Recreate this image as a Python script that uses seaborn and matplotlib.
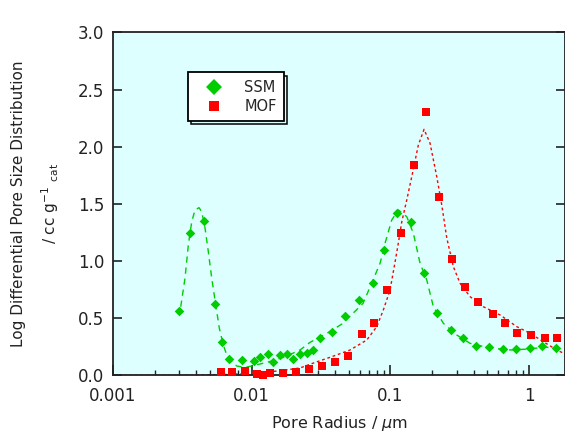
import matplotlib
matplotlib.use("Agg")
import matplotlib.pyplot as plt
import seaborn as sns
from matplotlib.lines import Line2D
from matplotlib.ticker import FixedLocator, LogLocator, NullFormatter

# ---------------- data ----------------
series_names = ["SSM", "MOF"]

ssm_radius = [0.00302, 0.00361, 0.00451, 0.00550, 0.00613, 0.00683, 0.00850,
              0.01048, 0.01152, 0.01304, 0.01436, 0.01605, 0.01793, 0.02001,
              0.02236, 0.02499, 0.02761, 0.03090, 0.03802, 0.04741, 0.05970,
              0.07482, 0.09053, 0.1118, 0.1410, 0.1735, 0.2152, 0.2724,
              0.3352, 0.4130, 0.5168, 0.6519, 0.7980, 1.020, 1.243, 1.563]
ssm_value = [0.561, 1.243, 1.351, 0.629, 0.293, 0.144, 0.134,
             0.131, 0.159, 0.188, 0.121, 0.179, 0.188, 0.147,
             0.186, 0.197, 0.227, 0.325, 0.378, 0.524, 0.662,
             0.806, 1.095, 1.420, 1.339, 0.898, 0.544, 0.398,
             0.325, 0.260, 0.245, 0.231, 0.233, 0.238, 0.262, 0.242]

mof_radius = [0.00603, 0.00724, 0.00902, 0.01090, 0.01216, 0.01359, 0.01695,
              0.02092, 0.02609, 0.03205, 0.03996, 0.04982, 0.06221, 0.07656,
              0.09419, 0.1198, 0.1489, 0.1808, 0.2250, 0.2797, 0.3453,
              0.4305, 0.5468, 0.6706, 0.8222, 1.037, 1.302, 1.597]
mof_value = [0.028, 0.028, 0.037, 0.009, 0.000, 0.024, 0.024,
             0.033, 0.057, 0.079, 0.121, 0.173, 0.367, 0.462,
             0.746, 1.247, 1.838, 2.302, 1.558, 1.018, 0.776,
             0.640, 0.538, 0.457, 0.374, 0.354, 0.325, 0.328]

ssm_fit_radius = [0.003090, 0.003318, 0.003505, 0.003708, 0.003916, 0.004185,
                  0.004377, 0.004624, 0.004884, 0.005168, 0.005523, 0.005861,
                  0.006263, 0.006626, 0.007200, 0.007823, 0.008979, 0.01114,
                  0.01405, 0.01743, 0.02236, 0.02640, 0.03499, 0.04563,
                  0.05386, 0.06358, 0.07143, 0.08432, 0.09159, 0.1023,
                  0.1142, 0.1313, 0.1465, 0.1637, 0.1829, 0.2041, 0.2409,
                  0.3009, 0.3752, 0.5228, 0.7287, 1.015, 1.302, 1.814]
ssm_fit_value = [0.601, 0.852, 1.141, 1.344, 1.447, 1.467,
                 1.432, 1.289, 1.082, 0.850, 0.616, 0.413,
                 0.267, 0.179, 0.121, 0.083, 0.070, 0.096,
                 0.127, 0.164, 0.223, 0.290, 0.369, 0.456,
                 0.544, 0.631, 0.774, 0.981, 1.156, 1.359,
                 1.447, 1.388, 1.243, 0.981, 0.835, 0.601, 0.456,
                 0.354, 0.281, 0.240, 0.223, 0.232, 0.249, 0.223]

mof_fit_radius = [0.001, 0.003054, 0.007002, 0.01152, 0.01605, 0.02236,
                  0.02868, 0.03740, 0.05125, 0.06761, 0.07980, 0.08903,
                  0.09949, 0.1081, 0.1142, 0.1208, 0.1313, 0.1426, 0.1591,
                  0.1749, 0.1932, 0.2159, 0.2346, 0.2549, 0.2844, 0.3178,
                  0.3752, 0.4677, 0.6172, 0.8141, 1.015, 1.266, 1.581, 1.814]
mof_fit_value = [0.000, 0.002, 0.010, 0.026, 0.041, 0.066,
                 0.114, 0.162, 0.223, 0.310, 0.427, 0.573,
                 0.747, 0.992, 1.158, 1.342, 1.535, 1.738, 2.015,
                 2.152, 2.030, 1.738, 1.490, 1.202, 0.951, 0.806,
                 0.689, 0.601, 0.529, 0.427, 0.369, 0.295, 0.223, 0.188]

x_ticks = [0.001, 0.01, 0.1, 1]
x_tick_labels = ["0.001", "0.01", "0.1", "1"]
y_ticks = [0.0, 0.5, 1.0, 1.5, 2.0, 2.5, 3.0]
y_tick_labels = ["0.0", "0.5", "1.0", "1.5", "2.0", "2.5", "3.0"]

# ---------------- style ----------------
GREEN = "#00CC00"
RED = "#FF0000"

sns.set_style("ticks")
plt.rcParams["font.family"] = ["DejaVu Sans"]
plt.rcParams["mathtext.fontset"] = "dejavusans"

fig = plt.figure(figsize=(5.65, 4.32), dpi=100)
ax = fig.add_axes([0.1995, 0.1308, 0.8010, 0.7944])
ax.set_facecolor("#DDFFFF")
ax.set_xscale("log")

sns.lineplot(x=ssm_fit_radius, y=ssm_fit_value, ax=ax, color=GREEN,
             linewidth=1.0, linestyle=(0, (4.5, 3.5)), sort=False, legend=False)
sns.lineplot(x=mof_fit_radius, y=mof_fit_value, ax=ax, color=RED,
             linewidth=1.0, linestyle=(0, (2, 2)), sort=False, legend=False)

sns.scatterplot(x=ssm_radius, y=ssm_value, ax=ax, marker="D", s=24,
                color=GREEN, linewidth=0, clip_on=False, zorder=5, legend=False)
sns.scatterplot(x=mof_radius, y=mof_value, ax=ax, marker="s", s=26,
                color=RED, linewidth=0, clip_on=False, zorder=5, legend=False)

ax.set_xlim(0.001, 1.82)
ax.set_ylim(0.0, 3.0)

ax.xaxis.set_major_locator(FixedLocator(x_ticks))
ax.set_xticklabels(x_tick_labels)
ax.xaxis.set_minor_locator(LogLocator(base=10, subs=range(2, 10), numticks=20))
ax.xaxis.set_minor_formatter(NullFormatter())
ax.yaxis.set_major_locator(FixedLocator(y_ticks))
ax.set_yticklabels(y_tick_labels)

ax.tick_params(axis="x", which="major", direction="in", length=7, width=1.2,
               labelsize=12, pad=8, colors="#222222")
ax.tick_params(axis="x", which="minor", direction="in", length=3.8, width=1.0)
ax.tick_params(axis="y", which="major", direction="in", length=6.5, width=1.2,
               labelsize=12, pad=6, right=True, colors="#222222")
ax.tick_params(axis="y", which="minor", left=False, right=False)

for side in ["left", "bottom", "top", "right"]:
    ax.spines[side].set_visible(True)
    ax.spines[side].set_color("#222222")
    ax.spines[side].set_linewidth(1.3)

ax.set_xlabel("Pore Radius / $\\mu$m", fontsize=11.5, color="#222222")
ax.xaxis.set_label_coords(0.5, -0.112)
ax.set_ylabel("Log Differential Pore Size Distribution\n/ cc g$^{-1}$ $_{\\mathrm{cat}}$",
              fontsize=11, color="#222222", linespacing=1.8,
              va="center", ha="center", rotation_mode="anchor")
ax.yaxis.set_label_coords(-0.17, 0.5)

handles = [
    Line2D([], [], linestyle="none", marker="D", markersize=8.2,
           markerfacecolor=GREEN, markeredgewidth=0, label=series_names[0]),
    Line2D([], [], linestyle="none", marker="s", markersize=7.6,
           markerfacecolor=RED, markeredgewidth=0, label=series_names[1]),
]
leg = ax.legend(handles=handles, loc="upper left", bbox_to_anchor=(0.167, 0.883),
                borderaxespad=0, fontsize=10.5, frameon=True, fancybox=False,
                edgecolor="black", facecolor="white", framealpha=1,
                borderpad=0.5, handlelength=2.5, handletextpad=0.85,
                labelspacing=0.3,
                shadow={"ox": 2.2, "oy": -2.2, "facecolor": "none",
                        "edgecolor": "black", "linewidth": 1.1, "alpha": 1.0})
leg.get_frame().set_linewidth(1.3)

fig.savefig("out.png", dpi=100, facecolor="white")
